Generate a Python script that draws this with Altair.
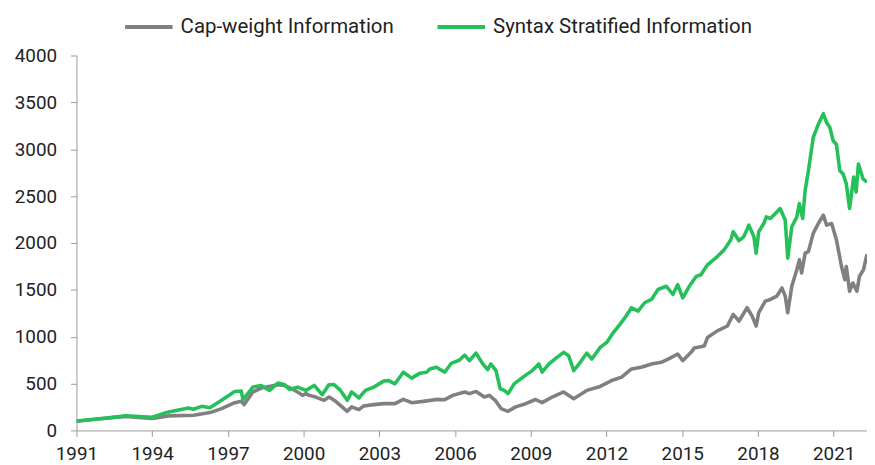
import altair as alt
import pandas as pd

# ---- data ----
series_names = ["Cap-weight Information", "Syntax Stratified Information"]

green_years = [1991.00, 1992.03, 1992.95, 1994.00, 1994.65, 1995.44, 1995.64, 1995.96, 1996.29, 1996.75,
               1997.27, 1997.53, 1997.60, 1997.99, 1998.32, 1998.65, 1998.98, 1999.24, 1999.44, 1999.76,
               2000.09, 2000.42, 2000.74, 2001.00, 2001.20, 2001.46, 2001.73, 2001.90, 2002.19, 2002.45,
               2002.78, 2003.17, 2003.37, 2003.62, 2003.95, 2004.28, 2004.61, 2004.87, 2005.00, 2005.26,
               2005.59, 2005.85, 2006.18, 2006.38, 2006.57, 2006.83, 2007.10, 2007.29, 2007.42, 2007.62,
               2007.79, 2007.95, 2008.10, 2008.34, 2008.60, 2008.80, 2009.06, 2009.32, 2009.45, 2009.72,
               2010.04, 2010.30, 2010.50, 2010.70, 2010.96, 2011.22, 2011.42, 2011.75, 2012.01, 2012.27,
               2012.53, 2012.73, 2012.99, 2013.25, 2013.51, 2013.78, 2014.04, 2014.37, 2014.63, 2014.82,
               2015.02, 2015.28, 2015.55, 2015.74, 2016.00, 2016.39, 2016.66, 2016.92, 2017.02, 2017.25,
               2017.44, 2017.64, 2017.84, 2017.93, 2018.03, 2018.23, 2018.33, 2018.49, 2018.69, 2018.88,
               2019.08, 2019.18, 2019.34, 2019.54, 2019.64, 2019.77, 2019.87, 2020.00, 2020.19, 2020.39,
               2020.59, 2020.72, 2020.85, 2020.98, 2021.11, 2021.24, 2021.37, 2021.50, 2021.63, 2021.79,
               2021.89, 2021.98, 2022.16, 2022.32]
green_vals = [100, 127, 155, 141, 197, 240, 226, 257, 243, 321,
              416, 420, 328, 462, 480, 427, 505, 490, 437, 462,
              427, 480, 381, 487, 490, 427, 321, 410, 346, 427,
              462, 526, 532, 497, 621, 558, 611, 621, 656, 674,
              621, 716, 751, 804, 744, 825, 709, 649, 709, 638,
              444, 427, 392, 497, 550, 590, 638, 709, 621, 709,
              780, 833, 797, 638, 727, 825, 762, 886, 939, 1044,
              1132, 1203, 1309, 1273, 1362, 1397, 1503, 1538, 1450, 1556,
              1415, 1538, 1643, 1661, 1767, 1855, 1926, 2032, 2120, 2024,
              2067, 2190, 2067, 1891, 2120, 2207, 2278, 2261, 2314, 2367,
              2243, 1838, 2173, 2278, 2420, 2261, 2561, 2772, 3125, 3266,
              3379, 3284, 3231, 3090, 3050, 2772, 2737, 2631, 2367, 2702,
              2543, 2843, 2684, 2650]

gray_years = [1991.00, 1992.03, 1992.95, 1994.00, 1994.65, 1995.64, 1996.29, 1996.75, 1997.27, 1997.53,
              1997.64, 1997.99, 1998.32, 1998.98, 1999.24, 1999.56, 1999.76, 1999.96, 2000.09, 2000.22,
              2000.48, 2000.81, 2001.01, 2001.27, 2001.73, 2001.90, 2002.19, 2002.38, 2002.78, 2003.17,
              2003.62, 2003.95, 2004.28, 2004.74, 2005.26, 2005.59, 2005.91, 2006.38, 2006.57, 2006.83,
              2007.16, 2007.36, 2007.59, 2007.82, 2008.10, 2008.40, 2008.80, 2009.19, 2009.45, 2009.85,
              2010.30, 2010.70, 2011.22, 2011.75, 2012.20, 2012.60, 2012.99, 2013.38, 2013.78, 2014.17,
              2014.50, 2014.82, 2015.02, 2015.35, 2015.48, 2015.87, 2016.00, 2016.39, 2016.79, 2017.02,
              2017.25, 2017.57, 2017.77, 2017.93, 2018.03, 2018.29, 2018.49, 2018.75, 2018.95, 2019.08,
              2019.18, 2019.34, 2019.54, 2019.64, 2019.73, 2019.87, 2020.00, 2020.19, 2020.39, 2020.59,
              2020.72, 2020.92, 2021.11, 2021.31, 2021.44, 2021.50, 2021.63, 2021.76, 2021.92, 2022.02,
              2022.18, 2022.32]
gray_vals = [98, 127, 150, 127, 155, 162, 190, 233, 296, 310,
             275, 410, 452, 487, 480, 440, 410, 374, 392, 374,
             356, 321, 356, 310, 204, 251, 222, 261, 275, 286,
             286, 331, 296, 310, 331, 328, 374, 410, 392, 416,
             356, 374, 321, 233, 204, 251, 285, 330, 296, 356,
             410, 339, 427, 469, 532, 568, 656, 674, 709, 727,
             769, 815, 744, 833, 880, 900, 991, 1062, 1114, 1238,
             1167, 1309, 1220, 1114, 1256, 1379, 1397, 1432, 1520, 1432,
             1256, 1538, 1714, 1820, 1679, 1891, 1908, 2102, 2207, 2296,
             2190, 2207, 2032, 1749, 1608, 1749, 1485, 1573, 1485, 1643,
             1714, 1880]

x_ticks = [1991, 1994, 1997, 2000, 2003, 2006, 2009, 2012, 2015, 2018, 2021]
y_ticks = [0, 500, 1000, 1500, 2000, 2500, 3000, 3500, 4000]

# ---- table ----
df = pd.concat([
    pd.DataFrame({"year": gray_years, "value": gray_vals, "series": series_names[0]}),
    pd.DataFrame({"year": green_years, "value": green_vals, "series": series_names[1]}),
], ignore_index=True)

FONT = "Roboto"

chart = alt.Chart(df).mark_line(strokeWidth=3.6, clip=True, strokeJoin="round").encode(
    x=alt.X("year:Q",
            scale=alt.Scale(domain=[1991, 2022.32], nice=False, zero=False),
            axis=alt.Axis(values=x_ticks, format="d", title=None, grid=False,
                          labelFontSize=19, labelFont=FONT, labelColor="#222222",
                          tickSize=6, tickColor="#9a9a9a", domainColor="#9a9a9a",
                          labelPadding=8, labelFlush=False, labelOverlap=False)),
    y=alt.Y("value:Q",
            scale=alt.Scale(domain=[0, 4000], nice=False),
            axis=alt.Axis(values=y_ticks, format="d", title=None, grid=False,
                          labelFontSize=19, labelFont=FONT, labelColor="#222222",
                          tickSize=6, tickColor="#9a9a9a", domainColor="#9a9a9a",
                          labelPadding=14)),
    color=alt.Color("series:N",
                    scale=alt.Scale(domain=series_names, range=["#808080", "#26c05a"]),
                    legend=alt.Legend(orient="none", legendX=47, legendY=-55,
                                      direction="horizontal", title=None,
                                      symbolType="stroke", symbolSize=2300,
                                      symbolStrokeWidth=4, labelFontSize=20.6,
                                      labelFont=FONT, labelColor="#222222",
                                      labelLimit=0, labelOffset=6, columnPadding=36)),
    order=alt.Order("year:Q"),
).properties(
    width=797,
    height=378,
    autosize=alt.AutoSizeParams(type="none"),
    padding={"left": 69, "top": 46, "right": 0, "bottom": 33},
).configure_view(stroke=None)

chart.save("out.html", embed_options={"renderer": "svg", "actions": False})
